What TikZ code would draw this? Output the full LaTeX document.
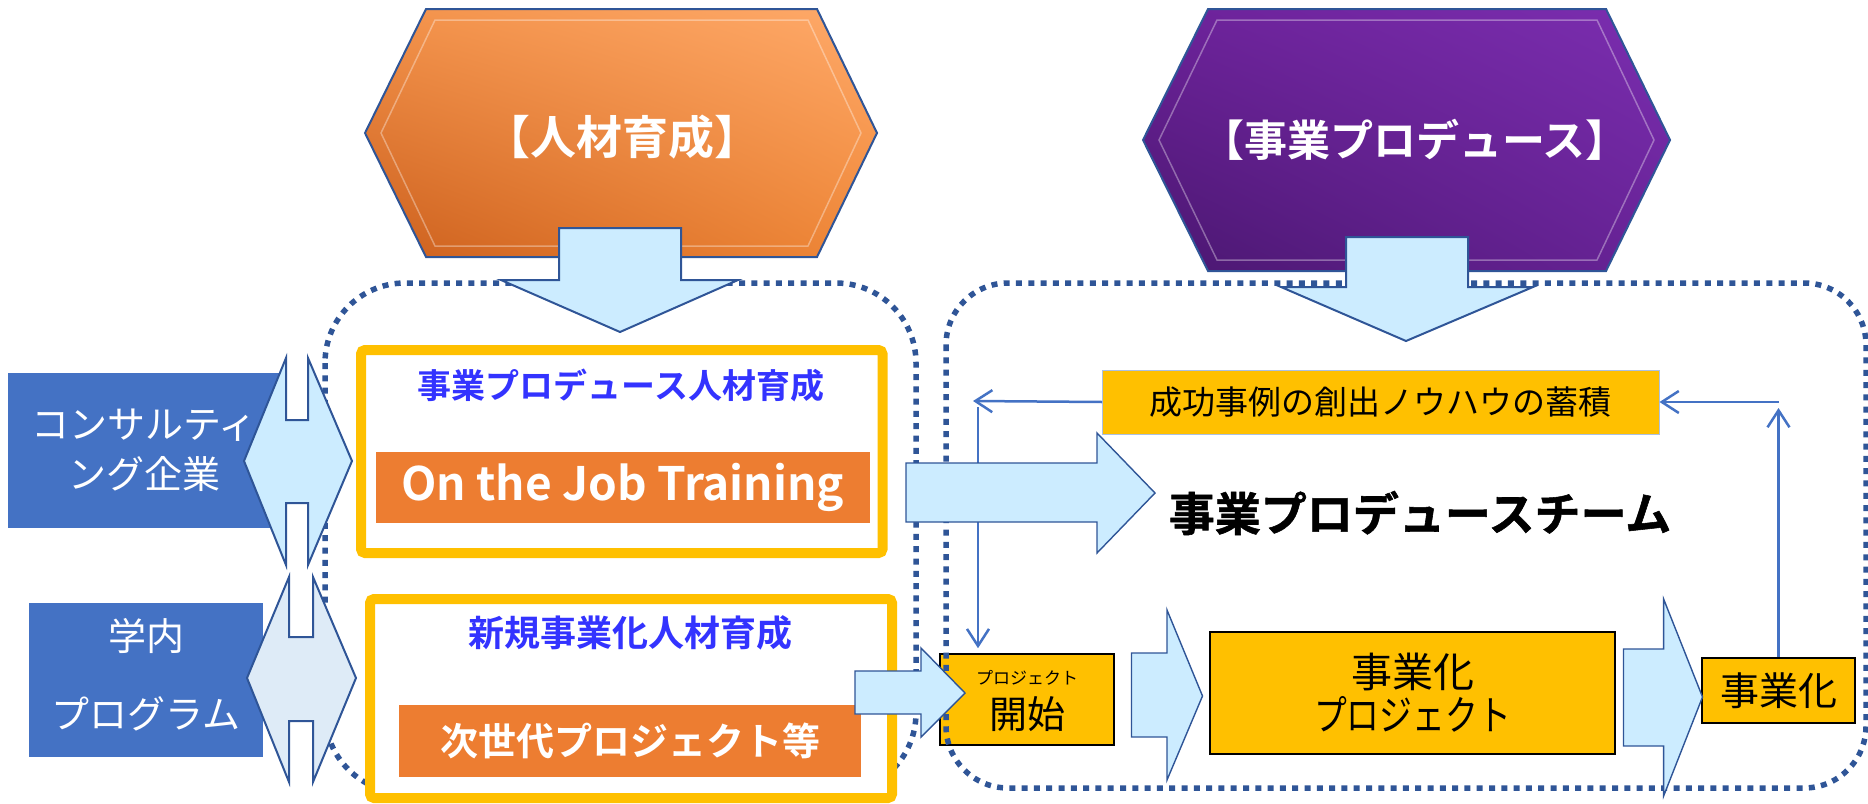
\documentclass[tikz,border=0pt]{standalone}
\usepackage{fontspec}
\setmainfont{Noto Sans CJK JP}[BoldFont={Noto Sans CJK JP Bold}]
\newfontfamily\heavyjp{Noto Sans CJK JP Bold}[FakeBold=1.2]
\usetikzlibrary{arrows.meta,shadings}
\definecolor{gold}{HTML}{FFC000}
\definecolor{obar}{HTML}{ED7D31}
\definecolor{navy}{HTML}{2F5597}
\definecolor{lblue}{HTML}{CCECFF}
\definecolor{pblue}{HTML}{DEEBF7}
\definecolor{bbox}{HTML}{4472C4}
\definecolor{ttl}{HTML}{3333FF}
\definecolor{orA}{HTML}{F3924A}
\definecolor{orB}{HTML}{FFAA6A}
\definecolor{orC}{HTML}{CC601E}
\definecolor{orD}{HTML}{F08838}
\definecolor{puA}{HTML}{6C2299}
\definecolor{puB}{HTML}{7B2EB0}
\definecolor{puC}{HTML}{4A1770}
\definecolor{puD}{HTML}{682397}
\newcommand{\fsz}[2]{\fontsize{#1}{#2}\selectfont}
\tikzset{
  container/.style={draw=navy, line width=5.5pt, dash pattern=on 6pt off 6.3pt},
  blockarrow/.style={fill=lblue, draw=navy, line width=2pt, line join=miter},
  flowarrow/.style={fill=lblue, draw=navy, line width=1.4pt, line join=miter},
  goldbox/.style={draw=gold, line width=10pt, fill=white, rounded corners=4pt, inner sep=0pt},
  orangebar/.style={fill=obar, text=white, inner sep=0pt},
  bluebox/.style={fill=bbox, text=white, inner sep=0pt, align=center},
  ybox/.style={fill=gold, draw=black, line width=1.6pt, inner sep=0pt, align=center},
  hexline/.style={draw=navy, line width=2pt, line join=miter},
  bevel/.style={draw=white, opacity=0.35, line width=1.5pt},
  thinarrow/.style={draw=bbox, line width=2.5pt, -{Straight Barb[length=17pt,width=22pt]}},
  txt/.style={inner sep=0pt}
}
\begin{document}
\begin{tikzpicture}[x=1pt,y=-1pt]
\useasboundingbox (0,0) rectangle (1868,803);

% left container
\draw[container, rounded corners=80pt] (325,283) rectangle (916,793);

% hexagons
\shade[upper left=orA, upper right=orB, lower left=orC, lower right=orD]
  (365,133) -- (426,9) -- (817,9) -- (877,133) -- (817,257) -- (426,257) -- cycle;
\draw[bevel] (381,133) -- (435,20) -- (808,20) -- (861,133) -- (808,246) -- (435,246) -- cycle;
\draw[hexline] (365,133) -- (426,9) -- (817,9) -- (877,133) -- (817,257) -- (426,257) -- cycle;
\node[txt, text=white, font=\bfseries\fsz{46}{48}] (hexL) at (622,137) {【人材育成】};

\shade[upper left=puA, upper right=puB, lower left=puC, lower right=puD]
  (1143,140) -- (1208,9) -- (1606,9) -- (1670,140) -- (1606,271) -- (1208,271) -- cycle;
\draw[bevel] (1159,140) -- (1217,20) -- (1597,20) -- (1654,140) -- (1597,260) -- (1217,260) -- cycle;
\draw[hexline] (1143,140) -- (1208,9) -- (1606,9) -- (1670,140) -- (1606,271) -- (1208,271) -- cycle;
\node[txt, text=white, font=\bfseries\fsz{43}{45}] (hexR) at (1415,140) {【事業プロデュース】};

% gold boxes
\node[goldbox, minimum width=521.5pt, minimum height=203pt] (box1) at (621.75,451.5) {};
\node[txt, text=ttl, font=\bfseries\fsz{34}{36}] (t1) at (621,385) {事業プロデュース人材育成};
\node[orangebar, minimum width=494.5pt, minimum height=71pt, font=\bfseries\fsz{46}{48}] (bar1) at (622.75,487.5) {On the Job Training};

\node[goldbox, minimum width=522pt, minimum height=199pt] (box2) at (631,698.5) {};
\node[txt, text=ttl, font=\bfseries\fsz{36}{38}] (t2) at (630,633) {新規事業化人材育成};
\node[orangebar, minimum width=462pt, minimum height=72pt, font=\bfseries\fsz{38}{40}] (bar2) at (630,741) {次世代プロジェクト等};

% blue boxes
\node[bluebox, minimum width=272pt, minimum height=155pt, font=\fsz{38}{50}] (consult) at (144,450.5) {コンサルティ\\ング企業};
\node[bluebox, minimum width=234pt, minimum height=154pt] (gakunai) at (146,680) {};
\node[txt, text=white, align=center, font=\fsz{38}{78}] (gakunaiT) at (146,675) {学内\\プログラム};

% double arrows
\draw[blockarrow] (244,461) -- (286,358) -- (286,420) -- (308,420) -- (308,358) -- (352,461)
  -- (308,565) -- (308,503) -- (286,503) -- (286,565) -- cycle;
\draw[blockarrow, fill=pblue] (247,678) -- (289,577) -- (289,637) -- (313,637) -- (313,577) -- (356,678)
  -- (313,782) -- (313,721) -- (289,721) -- (289,782) -- cycle;

% yellow boxes
\node[ybox, draw=bbox!45, line width=1pt, minimum width=556.5pt, minimum height=64pt, font=\fsz{33}{35}] (seikou) at (1380.75,402) {成功事例の創出ノウハウの蓄積};
\node[ybox, minimum width=174pt, minimum height=91pt] (start) at (1027,699.5) {};
\node[txt, font=\fsz{17}{18}] (startA) at (1027,678) {プロジェクト};
\node[txt, font=\fsz{38}{40}] (startB) at (1027,714) {開始};
\node[ybox, line width=1.3pt, minimum width=405pt, minimum height=122pt, font=\fsz{41}{43}] (proj) at (1412.5,693) {事業化\\\scalebox{0.8}[1]{プロジェクト}};
\node[ybox, minimum width=153pt, minimum height=65pt, font=\fsz{39}{40}] (jig) at (1778.5,690.5) {事業化};

% team label
\node[txt, font=\heavyjp\fsz{46}{48}] (team) at (1420,513) {事業プロデュースチーム};

% thin arrows
\coordinate (c1) at (973,401);
\coordinate (c2) at (978,407);
\coordinate (c4) at (1779,402);
\coordinate (c5) at (1778.5,408);
\draw[thinarrow] (seikou.west) -- (c1);
\draw[thinarrow, shorten >=5pt] (c2) -- (c2 |- start.north);
\draw[thinarrow] (c4) -- (seikou.east);
\draw[thinarrow] (jig.north) -- (c5);

% right container
\draw[container, rounded corners=62pt] (946,283) rectangle (1866,788);

% down arrows
\draw[blockarrow] (559,228) -- (681,228) -- (681,280) -- (738,280) -- (620,332) -- (501,280) -- (559,280) -- cycle;
\draw[blockarrow] (1346,237) -- (1468,237) -- (1468,287) -- (1533,287) -- (1406,341) -- (1281,287) -- (1346,287) -- cycle;

% flow arrows
\draw[flowarrow] (906,463) -- (1097,463) -- (1097,433) -- (1155,493) -- (1097,553) -- (1097,522) -- (906,522) -- cycle;
\draw[flowarrow] (855,671) -- (921,671) -- (921,648) -- (965,693) -- (921,737) -- (921,714) -- (855,714) -- cycle;
\draw[flowarrow] (1131.5,653) -- (1167,653) -- (1167,610) -- (1202.5,696) -- (1167,780) -- (1167,737) -- (1131.5,737) -- cycle;
\draw[flowarrow] (1623.5,649) -- (1663.6,649) -- (1663.6,599) -- (1702.5,697) -- (1663.6,796) -- (1663.6,746) -- (1623.5,746) -- cycle;
\end{tikzpicture}
\end{document}
